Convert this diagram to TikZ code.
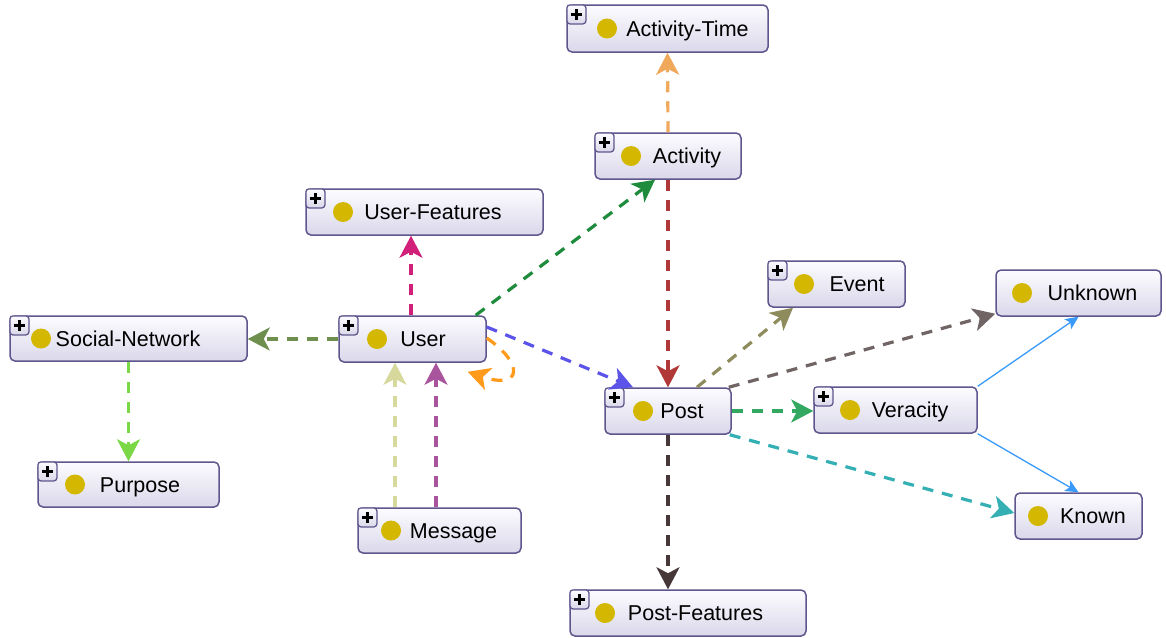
\documentclass[tikz,border=0pt]{standalone}
\usepackage{fontspec}
\setmainfont{Liberation Sans}
\usetikzlibrary{arrows.meta,calc}

\definecolor{boxline}{RGB}{94,86,140}
\definecolor{boxtop}{RGB}{252,252,255}
\definecolor{boxbot}{RGB}{218,216,234}
\definecolor{dotcol}{RGB}{211,183,0}
\definecolor{isablue}{RGB}{58,154,250}
\definecolor{cAT}{RGB}{240,168,90}
\definecolor{cAP}{RGB}{176,56,56}
\definecolor{cUA}{RGB}{30,140,60}
\definecolor{cUF}{RGB}{208,32,122}
\definecolor{cUS}{RGB}{111,143,79}
\definecolor{cSP}{RGB}{122,216,70}
\definecolor{cUP}{RGB}{92,84,232}
\definecolor{cUU}{RGB}{255,154,26}
\definecolor{cMa}{RGB}{214,216,156}
\definecolor{cMb}{RGB}{168,85,158}
\definecolor{cPE}{RGB}{142,140,92}
\definecolor{cPU}{RGB}{112,100,100}
\definecolor{cPV}{RGB}{50,168,96}
\definecolor{cPK}{RGB}{52,176,180}
\definecolor{cPF}{RGB}{70,56,56}

\tikzset{
  obox/.style={draw=boxline, line width=1.5pt, rounded corners=5pt,
    top color=boxtop, bottom color=boxbot, inner sep=0pt},
  plusbox/.style={draw=boxline, line width=1.3pt, rounded corners=3pt,
    top color=boxtop, bottom color=boxbot, minimum size=19pt, inner sep=0pt,
    anchor=north west,
    path picture={\draw[black, line width=2.2pt]
      ([xshift=-5.5pt]path picture bounding box.center) -- ([xshift=5.5pt]path picture bounding box.center)
      ([yshift=-5.5pt]path picture bounding box.center) -- ([yshift=5.5pt]path picture bounding box.center);}},
  lbl/.style={anchor=base, inner sep=0pt, font=\fontsize{21.5}{24}\selectfont},
  dotc/.style={fill=dotcol, circle, minimum size=20pt, inner sep=0pt},
  dep/.style={line width=3.2pt, dash pattern=on 11pt off 9pt,
    -{Stealth[length=22pt,width=23pt,inset=6pt]}},
  isa/.style={line width=1.3pt, draw=isablue,
    -{Stealth[length=13pt,width=12pt,inset=3pt]}},
}

% class box: name, x1, y1, x2, y2, dot x, label centre x, label
\newcommand\onode[8]{%
  \node[obox, minimum width={#4-#2}, minimum height={#5-#3}] (#1)
    at ({(#2+#4)/2},{(#3+#5)/2}) {};
  \node[dotc] (#1-dot) at (#6,{(#3+#5)/2}) {};
  \node[lbl] (#1-txt) at (#7,{(#3+#5)/2+7.7}) {#8};
}
\newcommand\plusmark[1]{\node[plusbox] (#1-plus) at (#1.north west) {};}

\begin{document}
\begin{tikzpicture}[x=1pt,y=-1pt]
\fill[white] (0,0) rectangle (1166,637);
\useasboundingbox (0,0) rectangle (1166,637);

% classes
\onode{acttime}{567}{5}{768}{52}{607}{687.5}{Activity-Time}
\onode{activity}{595}{133}{741}{179}{631}{687}{Activity}
\onode{userfeat}{306}{189}{543}{235}{343}{433}{User-Features}
\onode{socnet}{10}{316}{247}{361}{41}{128}{Social-Network}
\onode{user}{339}{316}{486}{362}{377}{423}{User}
\onode{event}{768}{261}{905}{307}{804}{857}{Event}
\onode{unknown}{996}{270}{1161}{316}{1022}{1092.5}{Unknown}
\onode{post}{605}{388}{731}{434}{643}{682}{Post}
\onode{veracity}{814}{387}{977}{433}{850}{910}{Veracity}
\onode{purpose}{38}{462}{219}{507}{75}{140}{Purpose}
\onode{message}{358}{508}{521}{553}{391}{453.5}{Message}
\onode{known}{1015}{493}{1142}{539}{1038}{1093}{Known}
\onode{postfeat}{570}{590}{806}{636}{605}{695.5}{Post-Features}

\foreach \n in {acttime,activity,userfeat,socnet,user,event,post,veracity,purpose,message,postfeat}
  {\plusmark{\n}}

% object properties
\draw[dep, cAT] (activity.north) -- (acttime.south);
\draw[dep, cAP] (activity.south) -- (post.north);
\draw[dep, cUA] ([xshift=-11pt]user.north east) -- ([xshift=-13pt]activity.south);
\coordinate (uf) at ([xshift=-1.5pt]user.north);
\draw[dep, cUF] (uf) -- (uf |- userfeat.south);
\draw[dep, cUS] (user.west) -- (user.west -| socnet.east);
\draw[dep, cSP] (socnet.south) -- (purpose.north);
\draw[dep, cUP] ([yshift=12pt]user.east) -- ([xshift=-35pt]post.north);
\draw[dep, cUU] ([yshift=1pt]user.east) .. controls ($(user.east)+(39,26)$) and ($(user.east)+(34,51)$) .. ($(user.south east)+(-19,9)$);
\coordinate (ma) at ([xshift=-44.5pt]message.north);
\coordinate (mb) at ([xshift=-3.5pt]message.north);
\draw[dep, cMa] (ma) -- (ma |- user.south);
\draw[dep, cMb] (mb) -- (mb |- user.south);
\draw[dep, cPE] ([xshift=29pt]post.north) -- ([xshift=-43.5pt]event.south);
\draw[dep, cPU] ([xshift=-3pt]post.north east) -- ([yshift=3pt]unknown.south west);
\draw[dep, cPV] (post.east) -- (post.east -| veracity.west);
\draw[dep, cPK] ([xshift=-2pt]post.south east) -- ([yshift=3pt]known.west);
\draw[dep, cPF] (post.south) -- (post.south |- postfeat.north);

% subclass links
\draw[isa] (veracity.north east) -- (unknown.south);
\draw[isa] (veracity.south east) -- (known.north);
\end{tikzpicture}
\end{document}
